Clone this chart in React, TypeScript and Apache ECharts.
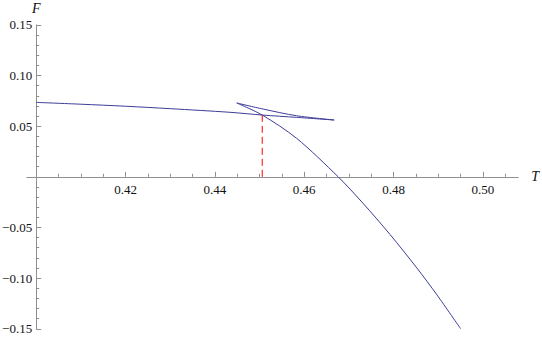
import React, { useEffect, useRef } from "react";
import * as echarts from "echarts";

// Small-black-hole branch (T, F)
const smallT = [0.4, 0.41, 0.42, 0.43, 0.4434, 0.4506, 0.4583, 0.4667];
const smallF = [0.0735, 0.0717, 0.0697, 0.0673, 0.0637, 0.061, 0.0587, 0.0561];
// Intermediate branch (right cusp -> left cusp)
const midT = [0.4667, 0.4583, 0.4508, 0.4449];
const midF = [0.0561, 0.0603, 0.0669, 0.0729];
// Large-black-hole branch (left cusp -> bottom)
const largeT = [0.4449, 0.4506, 0.4583, 0.4676, 0.4732, 0.4792, 0.4852, 0.4897, 0.495];
const largeF = [0.0729, 0.061, 0.038, 0.0, -0.0263, -0.0569, -0.0899, -0.1165, -0.1499];
// Transition point (dashed marker)
const transitionT = 0.4506;
const transitionF = 0.061;

// Axis ranges and ticks
const xMin = 0.3979;
const xMax = 0.5079;
const yMin = -0.15;
const yMax = 0.15;
const yInterval = 0.05;
const xMajorTicks = [0.42, 0.44, 0.46, 0.48, 0.5];
const xMinorTicks = [0.405, 0.41, 0.415, 0.425, 0.43, 0.435, 0.445, 0.45, 0.455, 0.465, 0.47, 0.475, 0.485, 0.49, 0.495, 0.505];

const AXIS_COLOR = "#8f8f8f";
const TEXT_COLOR = "#111";
const CURVE_COLOR = "#3d3d99";
const FONT = "Liberation Serif, Times New Roman, serif";

const zip = (a: number[], b: number[]) => a.map((v, i) => [v, b[i]]);

export default function App() {
  const ref = useRef<HTMLDivElement>(null);
  useEffect(() => {
    if (!ref.current) return;
    const chart = echarts.init(ref.current, undefined, { renderer: "svg" });
    const fmt = (v: number) => (v < 0 ? "\u2212" + (-v).toFixed(2) : v.toFixed(2));
    const yOffset = -9.4;
    const left = 26.8;
    const right = 23.8;
    const top = 24.9;
    const bottom = 9.25;
    const zeroBottom = 161.2; // grid 1 ends where F = 0
    const lineSeries = (data: number[][], color: string, extra: any = {}) => ({
      type: "line",
      data,
      showSymbol: false,
      xAxisIndex: 2,
      yAxisIndex: 0,
      silent: true,
      lineStyle: { color, width: 1, ...(extra.lineStyle || {}) },
      smooth: extra.smooth ?? 0.3,
    });
    chart.setOption({
      animation: false,
      backgroundColor: "#fff",
      textStyle: { fontFamily: FONT },
      grid: [
        { left, right, top, bottom, containLabel: false, outerBoundsMode: "none" },
        { left, right, top, bottom: zeroBottom, containLabel: false, outerBoundsMode: "none" },
      ],
      xAxis: [
        {
          type: "value",
          gridIndex: 1,
          min: xMin,
          max: xMax,
          position: "bottom",
          axisLine: { show: true, onZero: false, lineStyle: { color: AXIS_COLOR, width: 1 } },
          axisTick: { show: true, inside: true, length: 5, customValues: xMajorTicks, lineStyle: { color: AXIS_COLOR } },
          axisLabel: {
            show: true,
            customValues: xMajorTicks,
            formatter: (v: number) => fmt(v),
            margin: 6,
            color: TEXT_COLOR,
            fontFamily: FONT,
            fontSize: 13,
          },
          splitLine: { show: false },
          name: "T",
          nameLocation: "end",
          nameGap: 13,
          nameTextStyle: { fontFamily: FONT, fontStyle: "italic", fontSize: 14, color: TEXT_COLOR },
        },
        {
          type: "value",
          gridIndex: 1,
          min: xMin,
          max: xMax,
          position: "bottom",
          axisLine: { show: true, onZero: false, lineStyle: { color: AXIS_COLOR, opacity: 0 } },
          axisTick: { show: true, inside: true, length: 3, customValues: xMinorTicks, lineStyle: { color: AXIS_COLOR } },
          axisLabel: { show: false },
          splitLine: { show: false },
        },
        {
          type: "value",
          gridIndex: 0,
          min: xMin,
          max: xMax,
          show: false,
        },
      ],
      yAxis: [
        {
          type: "value",
          gridIndex: 0,
          min: yMin,
          max: yMax,
          interval: yInterval,
          position: "left",
          offset: yOffset,
          axisLine: { show: true, onZero: false, lineStyle: { color: AXIS_COLOR, width: 1 } },
          axisTick: { show: true, inside: true, length: 5, lineStyle: { color: AXIS_COLOR } },
          minorTick: { show: true, splitNumber: 5, length: 3, lineStyle: { color: AXIS_COLOR } },
          axisLabel: {
            show: true,
            formatter: (v: number) => (Math.abs(v) < 1e-9 ? "" : fmt(v)),
            margin: 4,
            color: TEXT_COLOR,
            fontFamily: FONT,
            fontSize: 13,
          },
          splitLine: { show: false },
          minorSplitLine: { show: false },
          name: "F",
          nameLocation: "end",
          nameGap: 9,
          nameTextStyle: { fontFamily: FONT, fontStyle: "italic", fontSize: 14, color: TEXT_COLOR },
        },
        {
          type: "value",
          gridIndex: 1,
          min: 0,
          max: 1,
          show: false,
        },
      ],
      series: [
        lineSeries(zip(smallT, smallF), CURVE_COLOR),
        lineSeries(zip(midT, midF), CURVE_COLOR),
        lineSeries(zip(largeT, largeF), CURVE_COLOR),
        lineSeries(
          [
            [transitionT, 0],
            [transitionT, transitionF],
          ],
          "#ff0000",
          { smooth: false, lineStyle: { type: [7, 4] } }
        ),
      ],
    });
    return () => chart.dispose();
  }, []);
  return (
    <div
      ref={ref}
      style={{ position: "fixed", left: 0, top: 0, width: 542, height: 338, background: "#fff" }}
    />
  );
}
